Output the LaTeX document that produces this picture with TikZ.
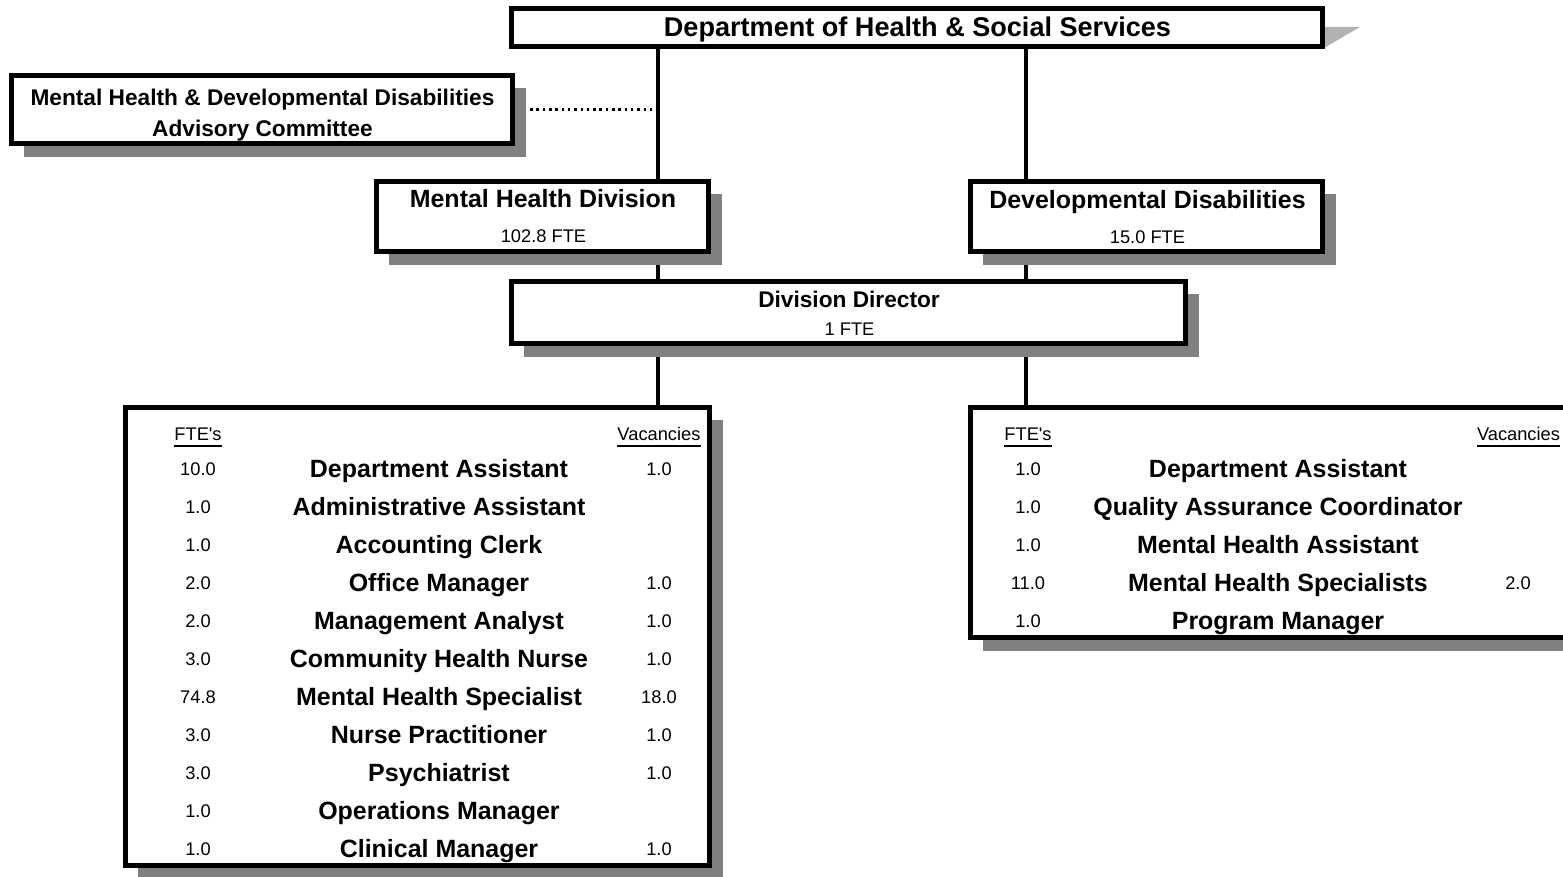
\documentclass[tikz,border=0pt]{standalone}
\usepackage{fontspec}
\setmainfont{Liberation Sans}
\usetikzlibrary{calc,backgrounds,shadows}

\begin{document}
\begin{tikzpicture}[x=0.01cm,y=-0.01cm,
    frame/.style={draw,line width=0.05cm,fill=white,inner sep=0pt},
    box/.style={frame,drop shadow={shadow xshift=0.13cm,shadow yshift=-0.13cm,fill=black!50,opacity=1}},
    link/.style={line width=0.04cm},
    txt/.style={inner sep=0pt,text height=0.75em,text depth=0.22em},
    big/.style={txt,font=\fontsize{7.1}{8}\selectfont\bfseries},
    mid/.style={txt,font=\fontsize{6.45}{7.5}\selectfont\bfseries},
    small/.style={txt,font=\fontsize{5.2}{6}\selectfont,yshift=0.015cm}]
    \useasboundingbox (0,0) rectangle (1563,877);
    \coordinate (lx) at (658,0);
    \coordinate (rx) at (1026,0);
    % boxes
    \fill[black!30] (1324,27) -- (1360,27) -- (1324,48) -- cycle;
    \node[frame,minimum width=8.11cm,minimum height=0.38cm] (dept) at (917,27.5) {};
    \node[box,minimum width=5.01cm,minimum height=0.68cm] (adv) at (262,109.5) {};
    \node[box,minimum width=3.32cm,minimum height=0.70cm] (mhd) at (542.5,216.5) {};
    \node[box,minimum width=3.52cm,minimum height=0.70cm] (dd) at (1146.5,216.5) {};
    \node[box,minimum width=6.74cm,minimum height=0.62cm] (dir) at (848.5,312.5) {};
    \node[box,minimum width=5.84cm,minimum height=4.58cm] (mhlist) at (417.5,636.5) {};
    \node[box,minimum width=6.02cm,minimum height=2.30cm] (ddlist) at (1271.5,522.5) {};
    % connectors
    \begin{scope}[on background layer]
        \draw[link] (dept.south -| lx) -- (mhd.north -| lx);
        \draw[link] (dept.south -| rx) -- (dd.north -| rx);
        \draw[link] (mhd.south -| lx) -- (dir.north -| lx);
        \draw[link] (dd.south -| rx) -- (dir.north -| rx);
        \draw[link] (dir.south -| lx) -- (mhlist.north -| lx);
        \draw[link] (dir.south -| rx) -- (ddlist.north -| rx);
    \end{scope}
    \draw[line width=0.025cm,dash pattern=on 0.025cm off 0.038cm] ([xshift=0.15cm]adv.east) -- ([xshift=-0.03cm]adv.east -| lx);
    % texts
    \node[txt,font=\fontsize{7.7}{9}\selectfont\bfseries] (deptname) at (917.5,27) {Department of Health \& Social Services};
    \node[mid] (advname) at (262.5,96) {Mental Health \& Developmental Disabilities};
    \node[mid] (advname2) at (262.5,127) {Advisory Committee};
    \node[big] (mhdname) at (543,198) {Mental Health Division};
    \node[small] (mhdfte) at (543.5,235) {102.8 FTE};
    \node[big] (ddname) at (1147.5,199) {Developmental Disabilities};
    \node[small] (ddfte) at (1147.5,236) {15.0 FTE};
    \node[mid] (dirname) at (849,298) {Division Director};
    \node[small] (dirfte) at (849.5,328) {1 FTE};
    % left list
    \node[small] (lfhead) at (198,433) {\underline{FTE\textquotesingle s}};
    \node[small] (lvhead) at (659,433) {\underline{Vacancies}};
    \foreach \f/\t [count=\i] in {10.0/Department Assistant,1.0/Administrative Assistant,
        1.0/Accounting Clerk,2.0/Office Manager,2.0/Management Analyst,
        3.0/Community Health Nurse,74.8/Mental Health Specialist,3.0/Nurse Practitioner,
        3.0/Psychiatrist,1.0/Operations Manager,1.0/Clinical Manager}
    {
        \node[small] (lf\i) at (198,{468+38*(\i-1)}) {\f};
        \node[big] (lt\i) at (439,{468+38*(\i-1)}) {\t};
    }
    \foreach \i/\v in {1/1.0,4/1.0,5/1.0,6/1.0,7/18.0,8/1.0,9/1.0,11/1.0}
        \node[small] (lv\i) at (659,{468+38*(\i-1)}) {\v};
    % right list
    \node[small] (rfhead) at (1028,433) {\underline{FTE\textquotesingle s}};
    \node[small] (rvhead) at (1518.5,433) {\underline{Vacancies}};
    \foreach \f/\t [count=\i] in {1.0/Department Assistant,1.0/Quality Assurance Coordinator,
        1.0/Mental Health Assistant,11.0/Mental Health Specialists,1.0/Program Manager}
    {
        \node[small] (rf\i) at (1028,{468+38*(\i-1)}) {\f};
        \node[big] (rt\i) at (1278,{468+38*(\i-1)}) {\t};
    }
    \node[small] (rv4) at (1518,582) {2.0};
\end{tikzpicture}
\end{document}
